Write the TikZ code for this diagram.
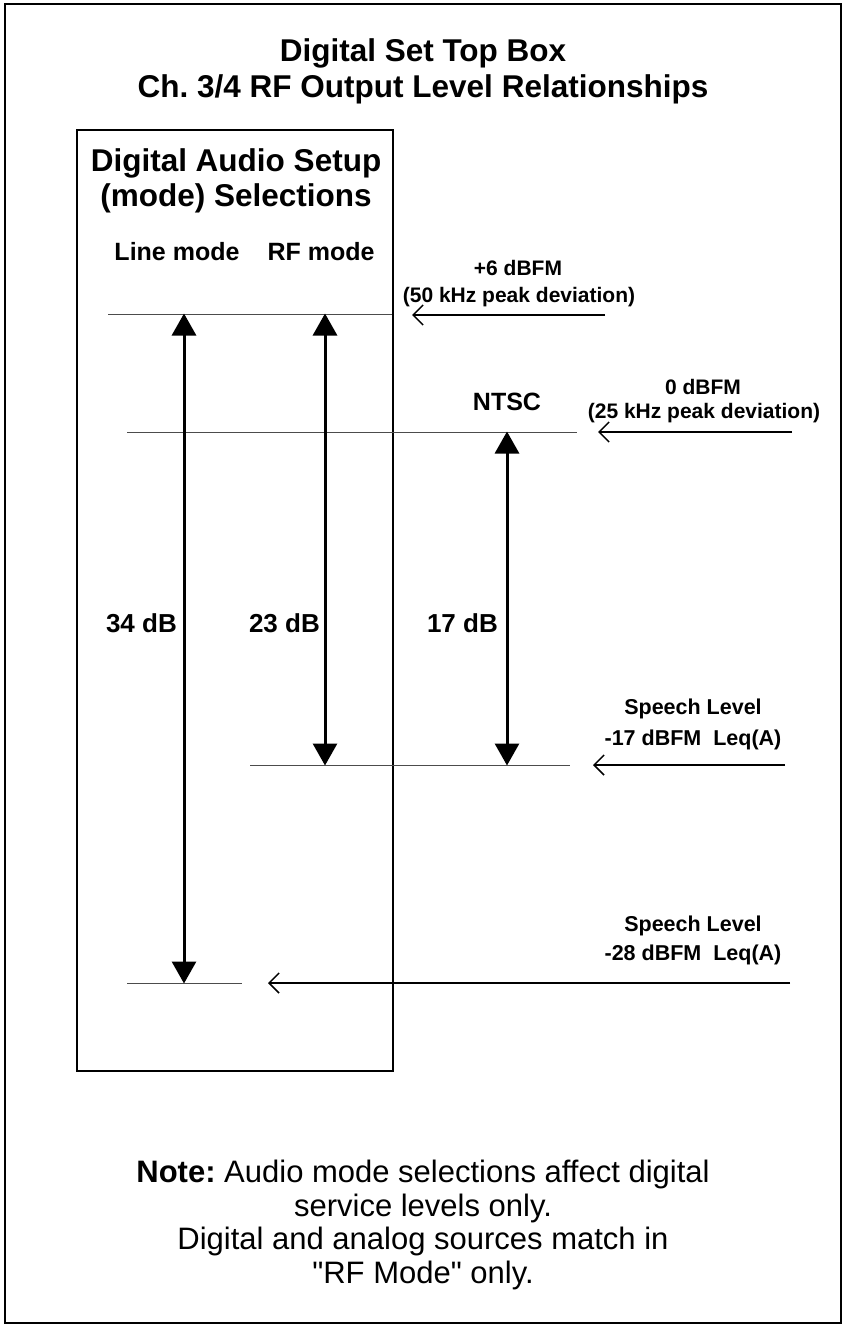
\documentclass[tikz,border=0pt]{standalone}
\usepackage{fontspec}
\setmainfont{Liberation Sans}
\usetikzlibrary{arrows.meta}
\frenchspacing
\tikzset{
  lvl/.style={draw=black!70, line width=1pt},
  inarrow/.style={draw=black, line width=1.5pt, -{Straight Barb[length=10pt,width=20pt,line width=1.5pt]}},
  span/.style={draw=black, line width=3pt, {Triangle[length=22pt,width=24pt]}-{Triangle[length=22pt,width=24pt]}, shorten <=-0.5pt, shorten >=-0.5pt},
  txt/.style={inner sep=0pt, font=\bfseries},
}
\begin{document}
\frenchspacing
\begin{tikzpicture}[x=1pt,y=-1pt]
\useasboundingbox (0,0) rectangle (846,1327);
% frames
\draw[line width=2.5pt] (5,4) rectangle (841,1323);
\draw[line width=2pt] (77,130) rectangle (393,1071);
% titles
\node[txt, align=center, font=\bfseries\fontsize{31.5}{36}\selectfont] (title) at (423,71) {Digital Set Top Box\\Ch. 3/4 RF Output Level Relationships};
\node[txt, align=center, font=\bfseries\fontsize{31.5}{35}\selectfont] (setup) at (236,181) {Digital Audio Setup\\(mode) Selections};
\node[txt, font=\bfseries\fontsize{25}{30}\selectfont] (linemode) at (177,252) {Line mode};
\node[txt, font=\bfseries\fontsize{25}{30}\selectfont] (rfmode) at (321,252) {RF mode};
% level lines
\coordinate (l6a) at (108,314); \coordinate (l6b) at (392,314);
\coordinate (l0a) at (127,432); \coordinate (l0b) at (577,432);
\coordinate (l17a) at (250,765); \coordinate (l17b) at (570,765);
\coordinate (l28a) at (127,983); \coordinate (l28b) at (242,983);
\draw[lvl] (l6a) -- (l6b);
\draw[lvl] (l0a) -- (l0b);
\draw[lvl] (l17a) -- (l17b);
\draw[lvl] (l28a) -- (l28b);
% input arrows
\coordinate (i6s) at (605,315); \coordinate (i6e) at (412,315);
\coordinate (i0s) at (792,432); \coordinate (i0e) at (598,432);
\coordinate (i17s) at (785,765); \coordinate (i17e) at (593,765);
\coordinate (i28s) at (790,983); \coordinate (i28e) at (268,983);
\draw[inarrow] (i6s) -- (i6e);
\draw[inarrow] (i0s) -- (i0e);
\draw[inarrow] (i17s) -- (i17e);
\draw[inarrow] (i28s) -- (i28e);
% spans
\coordinate (a1t) at (184,314); \coordinate (a1b) at (184,983);
\coordinate (a2t) at (325,314); \coordinate (a2b) at (325,765);
\coordinate (a3t) at (507,432); \coordinate (a3b) at (507,765);
\draw[span] (a1t) -- (a1b);
\draw[span] (a2t) -- (a2b);
\draw[span] (a3t) -- (a3b);
\node[txt, anchor=east, font=\bfseries\fontsize{26}{30}\selectfont] (d34) at (177,623) {34 dB};
\node[txt, anchor=east, font=\bfseries\fontsize{26}{30}\selectfont] (d23) at (320,623) {23 dB};
\node[txt, anchor=east, font=\bfseries\fontsize{26}{30}\selectfont] (d17) at (498,623) {17 dB};
% level labels
\node[txt, font=\bfseries\fontsize{21}{25}\selectfont] (p6a) at (518,268) {+6 dBFM};
\node[txt, font=\bfseries\fontsize{21}{25}\selectfont] (p6b) at (519,297) {(50 kHz peak deviation)};
\node[txt, font=\bfseries\fontsize{25}{30}\selectfont] (ntsc) at (507,402) {NTSC};
\node[txt, font=\bfseries\fontsize{21}{25}\selectfont] (z0a) at (703,387) {0 dBFM};
\node[txt, font=\bfseries\fontsize{21}{25}\selectfont] (z0b) at (704,413) {(25 kHz peak deviation)};
\node[txt, font=\bfseries\fontsize{21.5}{25}\selectfont] (s17a) at (693,709) {Speech Level};
\node[txt, font=\bfseries\fontsize{21.5}{25}\selectfont] (s17b) at (693,740) {-17 dBFM\ \ Leq(A)};
\node[txt, font=\bfseries\fontsize{21.5}{25}\selectfont] (s28a) at (693,926) {Speech Level};
\node[txt, font=\bfseries\fontsize{21.5}{25}\selectfont] (s28b) at (693,955) {-28 dBFM\ \ Leq(A)};
% note
\node[txt, align=center, font=\fontsize{31}{33.5}\selectfont, anchor=north] (note) at (423,1160) {\textbf{Note:} Audio mode selections affect digital\\service levels only.\\Digital and analog sources match in\\\textquotedbl RF Mode\textquotedbl{} only.};
\end{tikzpicture}
\end{document}
